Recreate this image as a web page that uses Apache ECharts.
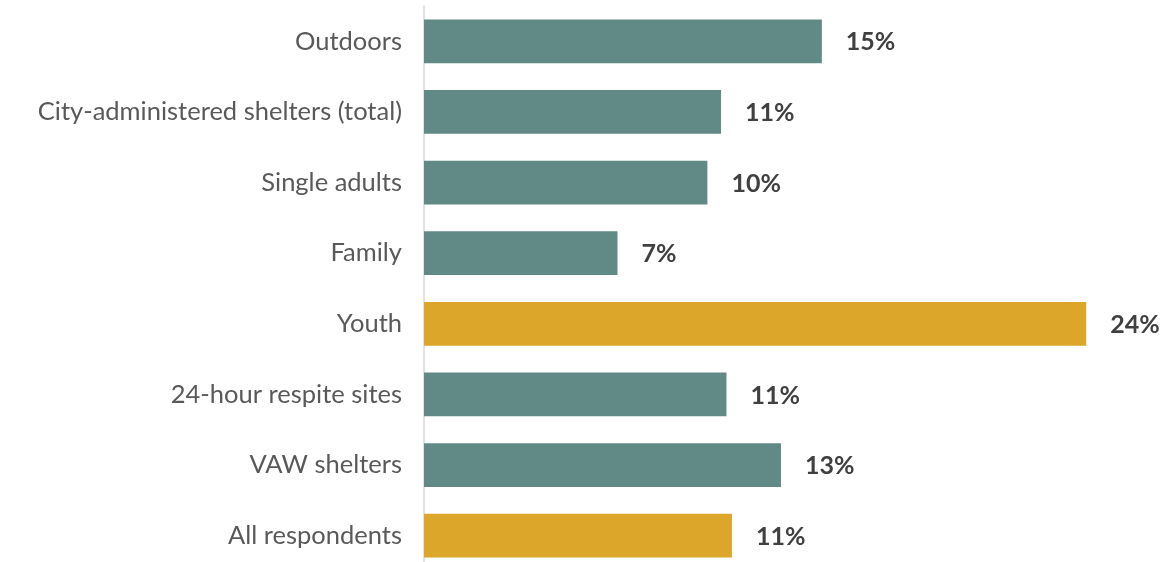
<!DOCTYPE html>
<html>
<head>
<meta charset="utf-8">
<script src="https://cdn.jsdelivr.net/npm/echarts@6/dist/echarts.min.js"></script>
<style>html,body{margin:0;padding:0;background:#fff;overflow:hidden}#c{width:1167px;height:571px}</style>
</head>
<body>
<div id="c"></div>
<script>
const categories = ["Outdoors","City-administered shelters (total)","Single adults","Family","Youth","24-hour respite sites","VAW shelters","All respondents"];
const values = [14.6, 10.9, 10.4, 7.1, 24.3, 11.1, 13.1, 11.3];
const highlighted = ["Youth","All respondents"];

const TEAL = '#618a87', GOLD = '#dba629';
const chart = echarts.init(document.getElementById('c'), null, {renderer:'canvas'});
chart.setOption({
  animation:false,
  grid:{left:424, right:61.75, top:6, bottom:0, containLabel:false},
  xAxis:{type:'value', min:0, max:25, show:false},
  yAxis:{type:'category', data:categories, inverse:true,
    axisLine:{show:true, lineStyle:{color:'#d9d9d9', width:1.5}},
    axisTick:{show:false},
    axisLabel:{fontFamily:'Lato', fontSize:25.5, color:'#595959', margin:22}
  },
  series:[{
    type:'bar', barCategoryGap:'38%',
    data: values.map((v,i)=>({value:v, itemStyle:{color: highlighted.includes(categories[i]) ? GOLD : TEAL}})),
    label:{show:true, position:'right', distance:24, fontFamily:'Lato', fontWeight:'bold', fontSize:25, color:'#404040', offset:[0,1],
      formatter:p=>Math.round(p.value)+'%'}
  }]
});
</script>
</body>
</html>
